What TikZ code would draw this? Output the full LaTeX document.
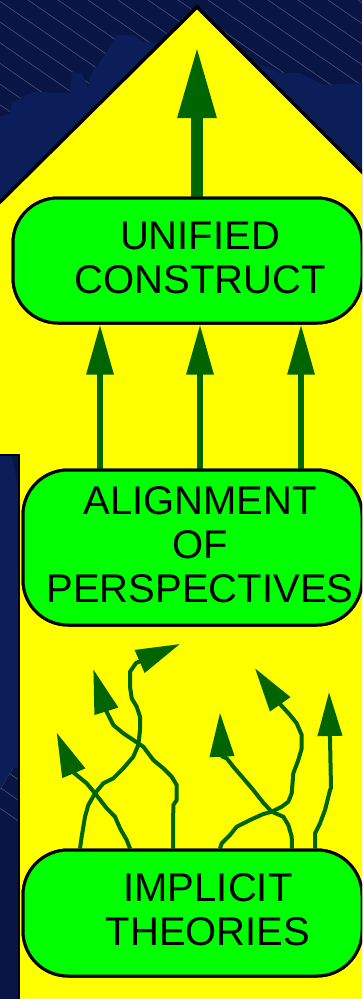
\documentclass[tikz,border=0pt]{standalone}
\usepackage{fontspec}
\setmainfont{Liberation Sans}
\usetikzlibrary{arrows.meta,calc}
\definecolor{navyDark}{RGB}{9,21,68}
\definecolor{navyLight}{RGB}{11,30,90}
\definecolor{houseYellow}{RGB}{255,255,0}
\definecolor{boxGreen}{RGB}{0,255,0}
\definecolor{arrowGreen}{RGB}{0,100,0}
\begin{document}
\begin{tikzpicture}[x=1pt,y=-1pt,
  stage/.style={draw=black,line width=3pt,fill=boxGreen,rounded corners=45pt,inner sep=0pt},
  stagetext/.style={font=\fontsize{40}{44}\selectfont,align=center,inner sep=0pt},
  bigarrow/.style={draw=arrowGreen,line width=12pt,line cap=round,-{Triangle[length=72pt,width=36pt]}},
  midarrow/.style={draw=arrowGreen,line width=6pt,line cap=round,-{Triangle[length=50pt,width=26pt]}},
  wiggle/.style={draw=arrowGreen,line width=4pt,line join=round,-{Triangle[length=44pt,width=24pt]}},
  hatch/.style={draw=white,opacity=0.3,line width=0.5pt}]
\useasboundingbox (0,0) rectangle (362,999);
\clip (0,0) rectangle (362,999);
% background
\fill[navyDark] (0,0) rectangle (362,999);
\foreach \k in {-40,...,12} \draw[hatch] (28+30*\k,0) -- ++(1450,1000);
\fill[navyLight] (0,117) -- (10,113) -- (12,102) -- (33,92) -- (70,93) -- (72,72) -- (82,73)
  -- (88,88) -- (92,72) -- (103,58) -- (117,35) -- (133,35) -- (143,42) -- (160,43) -- (197,40)
  -- (240,60) -- (260,65) -- (267,67) -- (280,73) -- (300,73) -- (323,85) -- (362,83)
  -- (362,300) -- (0,300) -- cycle;
% house
\fill[houseYellow] (197,7) -- (368,178) -- (368,1005) -- (0,1005) -- (0,202) -- cycle;
\draw[black,line width=3.5pt,line join=miter] (-2,204) -- (197,7) -- (364,174);
% lower-left panel
\fill[navyLight] (0,455) -- (19,455) -- (19,768) -- (13,768) -- (0,790) -- cycle;
\fill[navyDark] (0,790) -- (13,768) -- (19,768) -- (19,1000) -- (0,1000) -- cycle;
\begin{scope}
  \clip (0,790) -- (13,768) -- (19,768) -- (19,1000) -- (0,1000) -- cycle;
  \foreach \k in {-40,...,12} \draw[hatch] (28+30*\k,0) -- ++(1450,1000);
\end{scope}
\fill[navyDark] (12,456) -- (19,456) -- (19,490) -- cycle;
\draw[black,line width=2pt] (-1,455) -- (19,455) -- (19,1001);
% coordinates
\coordinate (m1) at (100,0);
\coordinate (m2) at (200,0);
\coordinate (m3) at (301,0);
\coordinate (top) at (197,46);
\coordinate (s1) at (80,0);
\coordinate (s2) at (130,0);
\coordinate (s3) at (173,0);
\coordinate (s4) at (220,0);
\coordinate (s5) at (292,0);
\coordinate (s6) at (315,0);
\coordinate (tA) at (180,644);
\coordinate (tB) at (56.7,732.7);
\coordinate (tC) at (93.3,669.3);
\coordinate (tD) at (255,668.3);
\coordinate (tE) at (220,712.7);
\coordinate (tF) at (329,692);
% boxes (placed first for anchors)
\node[stage,minimum width=349pt,minimum height=125pt] (uc) at (187.5,260.5) {};
\node[stage,minimum width=339pt,minimum height=155pt] (apt) at (192.5,547.5) {};
\node[stage,minimum width=339pt,minimum height=126pt] (it) at (192.5,913) {};
% arrows
\draw[bigarrow] ([xshift=9.5pt]uc.north) -- (top);
\draw[midarrow] (apt.north -| m1) -- (uc.south -| m1);
\draw[midarrow] (apt.north -| m2) -- (uc.south -| m2);
\draw[midarrow] (apt.north -| m3) -- (uc.south -| m3);
% wiggly arrows
\draw[wiggle] (it.north -| s1) -- (81.7,836.7) -- (85,816.7) -- (88.3,805) -- (95,793.3)
  -- (103.3,783.3) -- (113.3,778.3) -- (123.3,768.3) -- (133.3,756.7) -- (138.3,745)
  -- (140,730) -- (140,716.7) -- (136.7,706.7) -- (131.7,698.3) -- (130,686.7)
  -- (130,671.7) -- (136,663) -- (tA);
\draw[wiggle] (it.north -| s2) -- (126.7,840) -- (120,828.3) -- (115,816.7) -- (106.7,808.3)
  -- (95,793.3) -- (86.7,783.3) -- (73.5,772.5) -- (tB);
\draw[wiggle] (it.north -| s3) -- (173.3,805) -- (176.7,800) -- (176.7,785) -- (171.7,776.7)
  -- (163.3,768.3) -- (153.3,760) -- (143.3,746.7) -- (133.3,740) -- (123.3,733.3)
  -- (113.3,725) -- (106.5,711.5) -- (tC);
\draw[wiggle] (it.north -| s4) -- (221.7,843.3) -- (230,835) -- (236.7,826.7) -- (250,820)
  -- (263.3,814) -- (271.7,811.7) -- (281.7,806.7) -- (288.3,801.7) -- (291.7,793.3)
  -- (293.3,773.3) -- (298.3,760) -- (301.7,748.3) -- (301.7,735) -- (296.7,723.3)
  -- (290,715) -- (280,704) -- (tD);
\draw[wiggle] (it.north -| s5) -- (291.7,836.7) -- (288.3,825) -- (283.3,816.7) -- (271.7,811.7)
  -- (263.3,802.7) -- (253.3,790) -- (243.3,778.3) -- (233.3,766.7) -- (226.7,758.3)
  -- (222,756.5) -- (tE);
\draw[wiggle] (it.north -| s6) -- (315,833.3) -- (320,823.3) -- (325,810) -- (330,790)
  -- (331,788) -- (330,738) -- (tF);
% redraw boxes on top of arrow ends
\node[stage,minimum width=349pt,minimum height=125pt] (ucB) at (uc) {};
\node[stage,minimum width=339pt,minimum height=155pt] (aptB) at (apt) {};
\node[stage,minimum width=339pt,minimum height=126pt] (itB) at (it) {};
% texts
\node[stagetext] (ucT) at (200,257.5) {UNIFIED\\CONSTRUCT};
\node[stagetext] (aptT) at (200,545) {ALIGNMENT\\OF\\PERSPECTIVES};
\node[stagetext] (itT) at (208,910) {IMPLICIT\\THEORIES};
\end{tikzpicture}
\end{document}
